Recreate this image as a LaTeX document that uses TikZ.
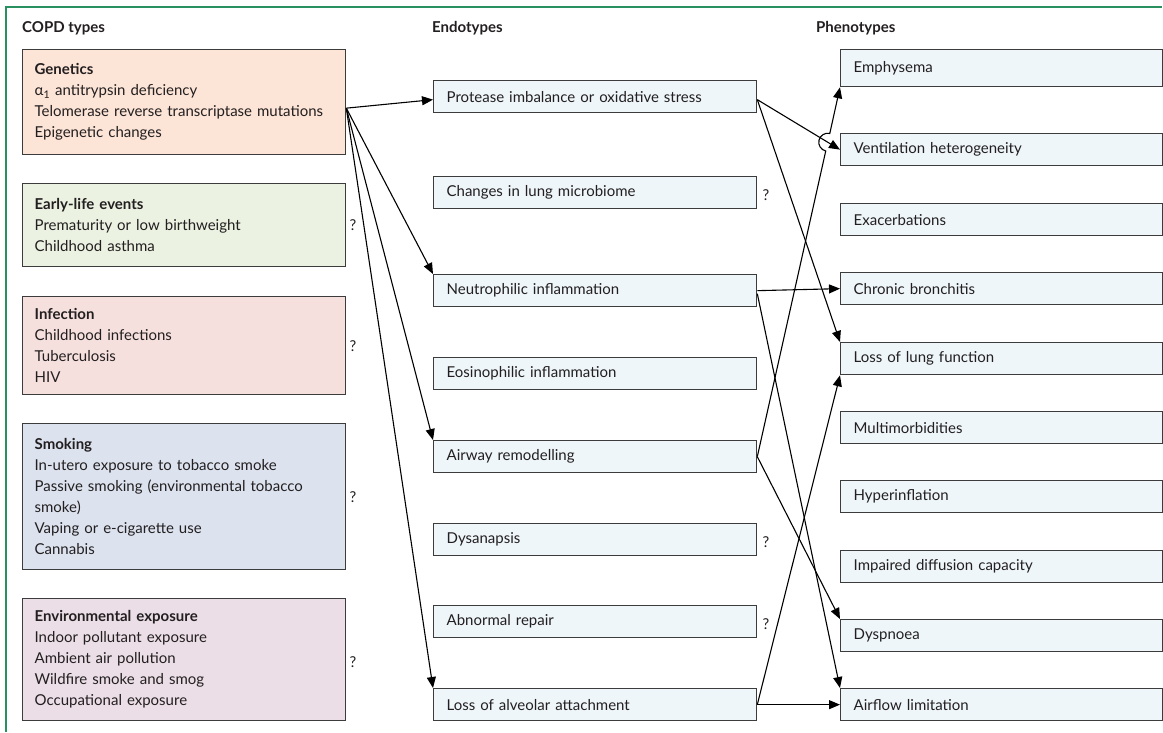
\documentclass[tikz,border=0pt]{standalone}
\usepackage{fontspec}
\setmainfont{Lato}
\usetikzlibrary{arrows.meta,calc,intersections}
\definecolor{frame}{RGB}{40,145,95}
\definecolor{boxline}{RGB}{60,60,60}
\definecolor{ink}{RGB}{35,31,32}
\definecolor{genfill}{RGB}{252,228,214}
\definecolor{earlyfill}{RGB}{235,242,226}
\definecolor{inffill}{RGB}{246,224,222}
\definecolor{smokefill}{RGB}{220,227,239}
\definecolor{envfill}{RGB}{235,222,231}
\definecolor{typefill}{RGB}{238,246,250}

\begin{document}
\begin{tikzpicture}
      [x = 1pt, y = -1pt,
      font = \fontsize{15}{21}\selectfont,
      text = ink,
      arrow/.style = {-{Triangle[length=11pt, width=9pt]}, line width = 1.1pt},
      cause/.style = {
         draw = boxline,
         line width = 1.3pt,
         anchor = north west,
         minimum height = #1,
         text width = 299pt,
         inner xsep = 12pt,
         align = left
      },
      endo/.style = {
         draw = boxline,
         fill = typefill,
         line width = 1.3pt,
         anchor = north west,
         minimum height = 32pt,
         text width = 297pt,
         inner xsep = 13pt,
         inner ysep = 0pt,
         align = left
      },
      pheno/.style = {endo, text width = 296pt},
      head/.style = {anchor = west, inner sep = 0pt, font = \fontsize{15}{21}\selectfont\bfseries},
      query/.style = {anchor = west, inner sep = 0pt}]

      \useasboundingbox (0, 0) rectangle (1163, 732);
      \draw[frame, line width = 1.2pt] (6, 732) -- (6, 7) -- (1162, 7);

      \node[head] (hcopd) at (22, 28) {COPD types};
      \node[head] (hendo) at (432, 28) {Endotypes};
      \node[head] (hpheno) at (816, 28) {Phenotypes};

      \node[cause = 105pt, fill = genfill] (gen) at (22, 49)
         {\textbf{Genetics}\\ α\textsubscript{1} antitrypsin deficiency\\
          Telomerase reverse transcriptase mutations\\ Epigenetic changes};
      \node[cause = 83pt, fill = earlyfill] (early) at (22, 183)
         {\textbf{Early-life events}\\ Prematurity or low birthweight\\ Childhood asthma};
      \node[cause = 98pt, fill = inffill] (inf) at (22, 296)
         {\textbf{Infection}\\ Childhood infections\\ Tuberculosis\\ HIV};
      \node[cause = 146pt, fill = smokefill] (smk) at (22, 423)
         {\textbf{Smoking}\\ In-utero exposure to tobacco smoke\\
          Passive smoking (environmental tobacco\\ smoke)\\
          Vaping or e-cigarette use\\ Cannabis};
      \node[cause = 122pt, fill = envfill] (env) at (22, 598)
         {\textbf{Environmental exposure}\\ Indoor pollutant exposure\\
          Ambient air pollution\\ Wildfire smoke and smog\\ Occupational exposure};

      \node[endo] (pro) at (433, 80) {Protease imbalance or oxidative stress};
      \node[endo] (mic) at (433, 176) {Changes in lung microbiome};
      \node[endo] (neu) at (433, 274) {Neutrophilic inflammation};
      \node[endo] (eos) at (433, 357) {Eosinophilic inflammation};
      \node[endo] (air) at (433, 440) {Airway remodelling};
      \node[endo] (dysa) at (433, 523) {Dysanapsis};
      \node[endo] (rep) at (433, 605) {Abnormal repair};
      \node[endo] (alv) at (433, 688) {Loss of alveolar attachment};

      \node[pheno, minimum height = 37pt] (emp) at (840, 49) {Emphysema};
      \node[pheno] (ven) at (840, 133) {Ventilation heterogeneity};
      \node[pheno] (exa) at (840, 203) {Exacerbations};
      \node[pheno] (chr) at (840, 272) {Chronic bronchitis};
      \node[pheno] (llf) at (840, 342) {Loss of lung function};
      \node[pheno] (mul) at (840, 411) {Multimorbidities};
      \node[pheno] (hyp) at (840, 480) {Hyperinflation};
      \node[pheno] (imp) at (840, 550) {Impaired diffusion capacity};
      \node[pheno] (dysp) at (840, 619) {Dyspnoea};
      \node[pheno] (afl) at (840, 688) {Airflow limitation};

      \node[query] (qearly) at ([xshift = 3pt] early.east) {?};
      \node[query] (qinf) at ([xshift = 3pt] inf.east) {?};
      \node[query] (qsmk) at ([xshift = 3pt] smk.east) {?};
      \node[query] (qenv) at ([xshift = 3pt, yshift = -2pt] env.east) {?};
      \node[query] (qmic) at ([xshift = 5pt, yshift = -2pt] mic.east) {?};
      \node[query] (qdysa) at ([xshift = 5pt, yshift = -2pt] dysa.east) {?};
      \node[query] (qrep) at ([xshift = 5pt, yshift = -2pt] rep.east) {?};

      \coordinate (gsrc) at ([yshift = -6pt] gen.east);
      \coordinate (psrc) at ([yshift = -3pt] pro.east);

      \draw[arrow] (gsrc) -- ([yshift = -3pt] pro.west);
      \draw[arrow] (gsrc) -- (neu.north west);
      \draw[arrow] (gsrc) -- (air.north west);
      \draw[arrow] (gsrc) -- (alv.north west);

      \draw[arrow] (psrc) -- (ven.west);
      \draw[arrow] (psrc) -- (llf.north west);

      \path[name path = rise] (air.east) -- (emp.south west);
      \path[name path = fall] (psrc) -- (ven.west);
      \path[name intersections = {of = rise and fall, by = hop}];
      \draw[arrow] (air.east) -- ($(hop)!9pt!(air.east)$)
         arc[start angle = 103, end angle = 283, radius = 9] -- (emp.south west);

      \draw[arrow] (neu.east) -- (chr.west);
      \draw[arrow] ([yshift = -3pt] neu.east) -- (afl.north west);
      \draw[arrow] (air.east) -- (dysp.north west);
      \draw[arrow] (alv.east) -- (llf.south west);
      \draw[arrow] (alv.east) -- (afl.west);

\end{tikzpicture}
\end{document}
